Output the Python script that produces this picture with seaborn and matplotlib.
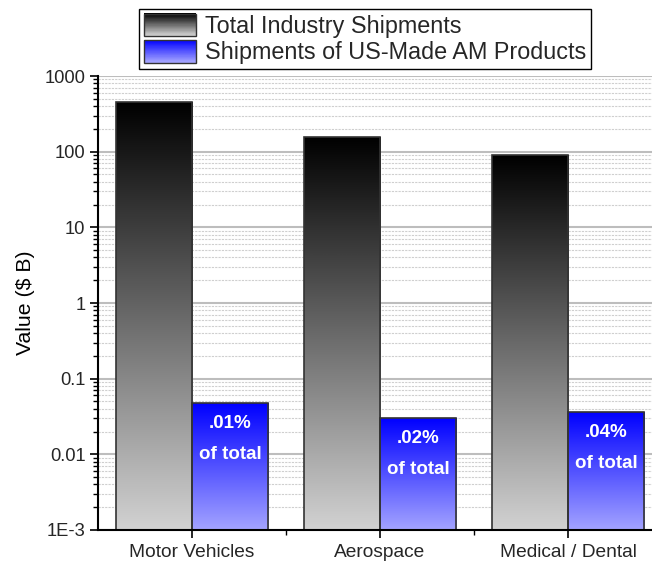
import numpy as np
import pandas as pd
import matplotlib
matplotlib.use("Agg")
import matplotlib.pyplot as plt
import seaborn as sns
from matplotlib.patches import Rectangle
from matplotlib.legend_handler import HandlerBase
from matplotlib.colors import LinearSegmentedColormap
from matplotlib.ticker import FixedLocator, FixedFormatter, LogLocator, NullFormatter


# 1. Data
categories = ['Motor Vehicles', 'Aerospace', 'Medical / Dental']
total_shipments = [450, 157, 90]
am_shipments = [0.047, 0.030, 0.036]
share_labels = ['.01%', '.02%', '.04%']
series_names = ['Total Industry Shipments', 'Shipments of US-Made AM Products']
ytick_vals = [1e-3, 1e-2, 1e-1, 1, 10, 100, 1000]
ytick_labels = ['1E-3', '0.01', '0.1', '1', '10', '100', '1000']

df = pd.DataFrame({
    'Sector': categories * 2,
    'Series': [series_names[0]] * 3 + [series_names[1]] * 3,
    'Value': total_shipments + am_shipments,
})

# gradient colours (top -> bottom)
grad_colors = [('#000000', '#d2d2d2'), ('#0000ff', '#a4a4ff')]


class GradientHandler(HandlerBase):
    def __init__(self, c_top, c_bottom):
        super().__init__()
        self.cmap = LinearSegmentedColormap.from_list('g', [c_top, c_bottom])

    def create_artists(self, legend, orig_handle, xdescent, ydescent,
                       width, height, fontsize, trans):
        n = 40
        arts = []
        for i in range(n):
            y = -ydescent + height * (1 - (i + 1) / n)
            arts.append(Rectangle((-xdescent, y), width, height / n + 0.3,
                                  facecolor=self.cmap(i / (n - 1)),
                                  edgecolor='none', transform=trans))
        arts.append(Rectangle((-xdescent, -ydescent), width, height,
                              facecolor='none', edgecolor='#333333',
                              lw=1, transform=trans))
        return arts


# 2. Plot
sns.set_theme(style='white')
plt.rcParams['font.family'] = ['Liberation Sans', 'DejaVu Sans']

fig = plt.figure(figsize=(6.52, 5.65), dpi=100)
ax = fig.add_axes([98 / 652, 1 - 530 / 565, 564 / 652, 454 / 565])

sns.barplot(data=df, x='Sector', y='Value', hue='Series', hue_order=series_names,
            palette=['#808080', '#6060ff'], width=0.81, gap=0, errorbar=None,
            legend=False, edgecolor='#333333', linewidth=1.2, ax=ax, zorder=2)
ax.set_yscale('log')
ax.set_ylim(1e-3, 1000)
ax.set_xlim(-0.5, 2.5)

# gradient fills clipped to each bar
to_axes = ax.transAxes.inverted()
for k, cont in enumerate(ax.containers):
    cmap = LinearSegmentedColormap.from_list('g%d' % k, grad_colors[k])
    for bar in cont:
        x0, x1 = bar.get_x(), bar.get_x() + bar.get_width()
        (fx0, ftop) = to_axes.transform(ax.transData.transform((x0, bar.get_height())))
        (fx1, _) = to_axes.transform(ax.transData.transform((x1, 1)))
        grad = np.linspace(0, 1, 256).reshape(-1, 1)
        img = ax.imshow(grad, cmap=cmap, extent=[fx0, fx1, 0, ftop],
                        transform=ax.transAxes, aspect='auto', zorder=1.5,
                        interpolation='bilinear')
        img.set_clip_path(bar)
        bar.set_facecolor('none')

ax.set_ylim(1e-3, 1000)
ax.set_xlim(-0.5, 2.5)

# share labels inside the AM bars
for i, bar in enumerate(ax.containers[1]):
    cx = bar.get_x() + bar.get_width() / 2
    top = bar.get_height()
    ax.annotate(share_labels[i], (cx, top), xytext=(0, -14.5), textcoords='offset points',
                ha='center', va='center', color='white', fontweight='bold', fontsize=13.5)
    ax.annotate('of total', (cx, top), xytext=(0, -37), textcoords='offset points',
                ha='center', va='center', color='white', fontweight='bold', fontsize=13.5)

# axes styling
ax.yaxis.set_major_locator(FixedLocator(ytick_vals))
ax.yaxis.set_major_formatter(FixedFormatter(ytick_labels))
ax.yaxis.set_minor_locator(LogLocator(base=10, subs=np.arange(2, 10)))
ax.yaxis.set_minor_formatter(NullFormatter())
ax.xaxis.set_minor_locator(FixedLocator([0.5, 1.5]))

ax.set_axisbelow(True)
ax.yaxis.grid(True, which='major', color='#bdbdbd', lw=1.5)
ax.yaxis.grid(True, which='minor', color='#cfcfcf', lw=0.8, linestyle=(0, (2, 1)))
ax.xaxis.grid(False)

ax.tick_params(axis='both', which='major', direction='out', length=6, width=1.2,
               color='black', bottom=True, left=True)
ax.tick_params(axis='both', which='minor', direction='out', length=3.5, width=1,
               color='black', bottom=True, left=True)
ax.tick_params(axis='y', which='major', labelsize=13.2, pad=3)
ax.tick_params(axis='x', which='major', labelsize=13.8, pad=4)

for side in ['top', 'right']:
    ax.spines[side].set_visible(False)
for side in ['left', 'bottom']:
    ax.spines[side].set_color('black')
    ax.spines[side].set_linewidth(1.5)

ax.set_xlabel('')
ax.set_ylabel(r'Value (\$ B)', fontsize=15.3, labelpad=7, color='black')

# legend with gradient swatches
h1 = Rectangle((0, 0), 1, 1)
h2 = Rectangle((0, 0), 1, 1)
leg = fig.legend([h1, h2], series_names,
                 handler_map={h1: GradientHandler(*grad_colors[0]),
                              h2: GradientHandler(*grad_colors[1])},
                 loc='upper left', bbox_to_anchor=(139 / 652, 1 - 9 / 565),
                 bbox_transform=fig.transFigure, frameon=True, fancybox=False,
                 edgecolor='black', framealpha=1, fontsize=16.8, handlelength=2.23,
                 handleheight=1.1, labelspacing=0.1, borderpad=0.2,
                 handletextpad=0.39, borderaxespad=0)
leg.get_frame().set_linewidth(1)

plt.savefig('out.png', dpi=100)
